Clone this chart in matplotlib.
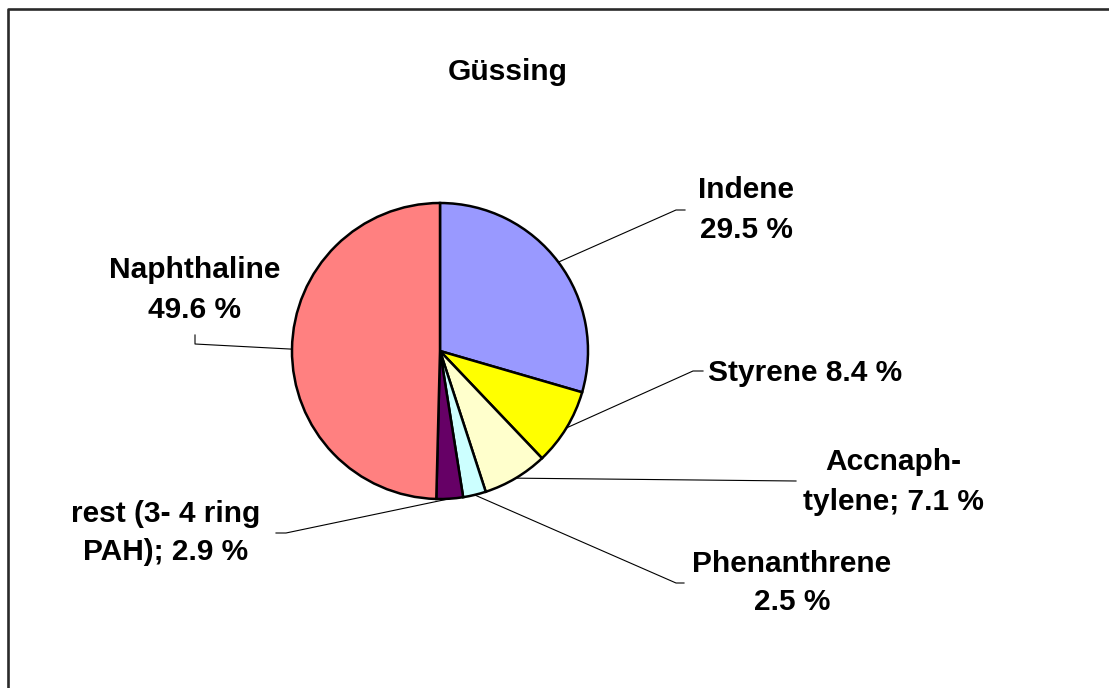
import numpy as np
import matplotlib.pyplot as plt

# data
names = ['Indene', 'Styrene', 'Accnaphtylene', 'Phenanthrene', 'rest (3- 4 ring PAH)', 'Naphthaline']
shares = [29.5, 8.4, 7.1, 2.5, 2.9, 49.6]
labels = ['Indene\n29.5 %', 'Styrene 8.4 %', 'Accnaph-\ntylene; 7.1 %',
          'Phenanthrene\n2.5 %', 'rest (3- 4 ring\nPAH); 2.9 %', 'Naphthaline\n49.6 %']
colors = ['#9999FF', '#FFFF00', '#FFFFCC', '#CCFFFF', '#660066', '#FF8080']

W, H = 1109, 688
fig = plt.figure(figsize=(W / 100, H / 100), dpi=100)
ax = fig.add_axes([0, 0, 1, 1])

def py(y):
    return H - y

cx, cy, r = 440, 351, 148
ax.pie(shares, colors=colors, startangle=90, counterclock=False,
       center=(cx, py(cy)), radius=r, frame=True,
       wedgeprops=dict(edgecolor='black', linewidth=1.8))
ax.set_xlim(0, W)
ax.set_ylim(0, H)
ax.set_aspect('auto')
ax.axis('off')

# frame border
ax.plot([8, 8, W], [0, py(9), py(9)], color='#2a2a2a', lw=1.9, solid_capstyle='butt')

# leader lines: elbow and end points, label position and alignment
elbows = [(676, 210), (693, 371), (796, 481), (676, 583), (286, 533), (195, 344)]
ends = [(685, 210), (703, 371), (796, 481), (684, 583), (276, 533), (195, 335)]
txt_pos = [(746, 210, 'center'), (708, 373, 'left'), (893, 482, 'center'),
           (792, 583, 'center'), (166, 533, 'center'), (195, 290, 'center')]

cum = np.cumsum([0] + shares)
total = cum[-1]
for i in range(len(shares)):
    mid = (cum[i] + cum[i + 1]) / 2 / total
    ang = np.deg2rad(90 - mid * 360)
    x0 = cx + r * np.cos(ang)
    y0 = cy - r * np.sin(ang)
    ex, ey = elbows[i]
    fx, fy = ends[i]
    ax.plot([x0, ex, fx], [py(y0), py(ey), py(fy)], color='black', lw=0.8)
    tx, ty, ha = txt_pos[i]
    ax.text(tx, py(ty), labels[i], ha=ha, va='center', fontsize=21.5,
            fontweight='bold', family='Liberation Sans', linespacing=1.5)

ax.text(508, py(72), 'Güssing', ha='center', va='center', fontsize=21.5,
        fontweight='bold', family='Liberation Sans')

fig.savefig('out.png', dpi=100)
